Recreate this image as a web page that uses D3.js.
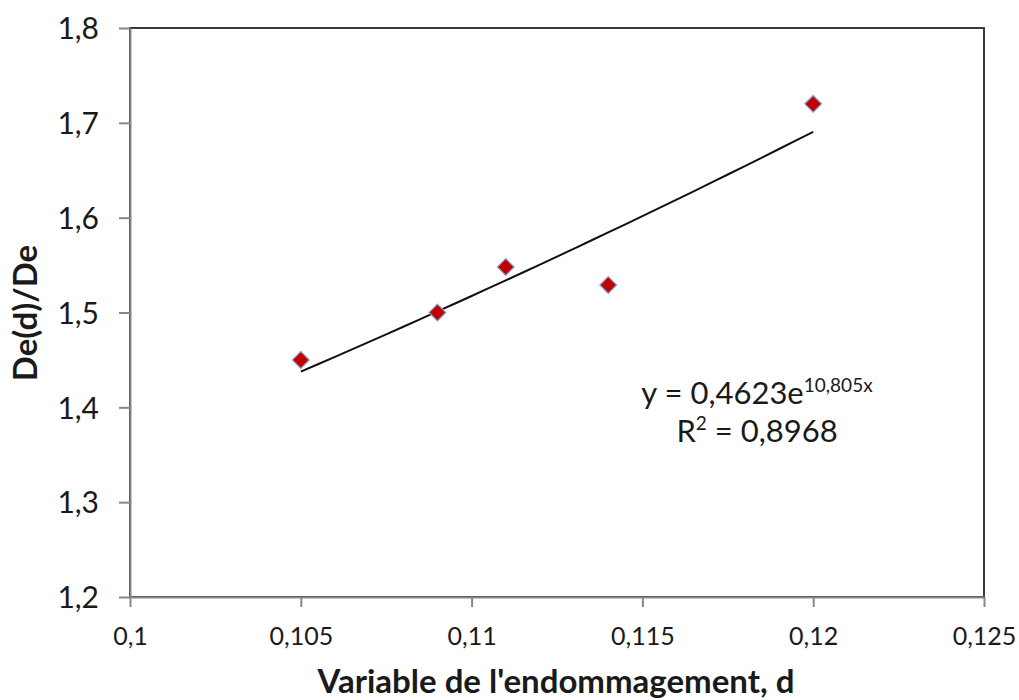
<!DOCTYPE html>
<html>
<head>
<meta charset="utf-8">
<script src="https://cdn.jsdelivr.net/npm/d3@7"></script>
<style>
  body { margin: 0; background: #fff; }
  svg text { font-family: Lato, "Open Sans", sans-serif; fill: #1a1a1a; }
</style>
</head>
<body>
<div id="chart"></div>
<script>
// data
const dValues = [0.105, 0.109, 0.111, 0.114, 0.120]
const ratioValues = [1.450, 1.500, 1.548, 1.529, 1.720]

const xTicks = [0.1, 0.105, 0.11, 0.115, 0.12, 0.125]
const yTicks = [1.2, 1.3, 1.4, 1.5, 1.6, 1.7, 1.8]

// exponential trendline shown on the chart: y = a * e^(b x)
const trendA = 0.4623
const trendB = 10.805
const trendRange = [0.105, 0.120]

const width = 1019
const height = 700
const margin = { top: 28, bottom: 103, left: 130, right: 35 }

const commaFmt = v => String(+v.toFixed(3)).replace('.', ',')

const svg = d3.select("#chart")
  .append("svg")
  .attr("width", width)
  .attr("height", height)

// SCALES
const xScale = d3.scaleLinear()
  .domain([0.1, 0.125])
  .range([margin.left, width - margin.right])

const yScale = d3.scaleLinear()
  .domain([1.2, 1.8])
  .range([height - margin.bottom, margin.top])

// plot area frame (top/right darker like the original)
svg.append("rect")
  .attr("x", margin.left)
  .attr("y", margin.top)
  .attr("width", width - margin.left - margin.right)
  .attr("height", height - margin.top - margin.bottom)
  .attr("fill", "none")
  .attr("stroke", "#3a3a3a")
  .attr("stroke-width", 2)

// AXES
const xAxis = d3.axisBottom(xScale)
  .tickValues(xTicks)
  .tickFormat(commaFmt)
  .tickSizeInner(10)
  .tickSizeOuter(0)
  .tickPadding(20)

const xAxisGroup = svg.append("g")
  .attr("transform", `translate(0, ${height - margin.bottom})`)
  .call(xAxis)
xAxisGroup.select(".domain").attr("stroke", "#878787").attr("stroke-width", 2)
xAxisGroup.selectAll(".tick line").attr("stroke", "#878787").attr("stroke-width", 2)
xAxisGroup.selectAll(".tick text")
  .style("font-size", "25px")
  .attr("dy", "0.72em")

const yAxis = d3.axisLeft(yScale)
  .tickValues(yTicks)
  .tickFormat(commaFmt)
  .tickSizeInner(11)
  .tickSizeOuter(0)
  .tickPadding(20)

const yAxisGroup = svg.append("g")
  .attr("transform", `translate(${margin.left}, 0)`)
  .call(yAxis)
yAxisGroup.select(".domain").attr("stroke", "#878787").attr("stroke-width", 2)
yAxisGroup.selectAll(".tick line").attr("stroke", "#878787").attr("stroke-width", 2)
yAxisGroup.selectAll(".tick text")
  .style("font-size", "30px")
  .attr("dy", "0.36em")

// AXIS TITLES
svg.append("text")
  .attr("x", 556)
  .attr("y", 693)
  .attr("text-anchor", "middle")
  .style("font-size", "33px")
  .style("font-weight", "bold")
  .text("Variable de l'endommagement, d")

svg.append("text")
  .attr("transform", `translate(${37}, ${313}) rotate(-90)`)
  .attr("text-anchor", "middle")
  .style("font-size", "33px")
  .style("font-weight", "bold")
  .text("De(d)/De")

// TRENDLINE
const trendX = d3.range(trendRange[0], trendRange[1] + 1e-9, 0.0005)
const trendLine = d3.line()
  .x(d => xScale(d))
  .y(d => yScale(trendA * Math.exp(trendB * d)))

svg.append("path")
  .attr("d", trendLine(trendX))
  .attr("fill", "none")
  .attr("stroke", "#111")
  .attr("stroke-width", 2)

// POINTS (diamonds)
const diamond = d3.symbol().type(d3.symbolDiamond2).size(180)
svg.selectAll(".pt")
  .data(dValues)
  .join("path")
    .attr("class", "pt")
    .attr("transform", (d, i) => `translate(${xScale(d)}, ${yScale(ratioValues[i])})`)
    .attr("d", diamond)
    .attr("fill", "#c00000")
    .attr("stroke", "#8d9fcb")
    .attr("stroke-width", 1.2)

// EQUATION LABEL
const eq = svg.append("text")
  .attr("x", 757)
  .attr("y", 404)
  .attr("text-anchor", "middle")
  .style("font-size", "31px")
eq.append("tspan").text("y = 0,4623e")
eq.append("tspan").attr("dy", -12).style("font-size", "19px").text("10,805x")

const r2 = svg.append("text")
  .attr("x", 757)
  .attr("y", 442)
  .attr("text-anchor", "middle")
  .style("font-size", "31px")
r2.append("tspan").text("R")
r2.append("tspan").attr("dy", -12).style("font-size", "19px").text("2")
r2.append("tspan").attr("dy", 12).text(" = 0,8968")
</script>
</body>
</html>
